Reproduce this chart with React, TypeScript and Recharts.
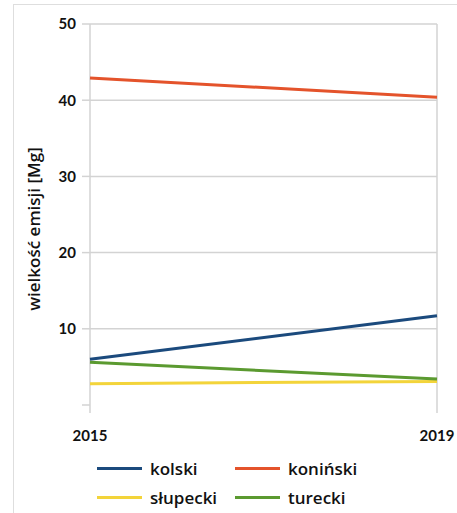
import { LineChart, Line, XAxis, YAxis, CartesianGrid, Legend } from 'recharts';

// Emission estimates per county
const years = ['2015', '2019'];
const kolski = [6.0, 11.7];
const koninski = [42.9, 40.4];
const slupecki = [2.8, 3.1];
const turecki = [5.6, 3.4];
const yTicks = [0, 10, 20, 30, 40, 50];

const series = [
  { key: 'kolski', name: 'kolski', color: '#1b4a7d', values: kolski },
  { key: 'koninski', name: 'koniński', color: '#e4532b', values: koninski },
  { key: 'slupecki', name: 'słupecki', color: '#f3d43a', values: slupecki },
  { key: 'turecki', name: 'turecki', color: '#5b9a30', values: turecki },
];

const data = years.map((year, i) => {
  const row: Record<string, string | number> = { year };
  series.forEach((s) => {
    row[s.key] = s.values[i];
  });
  return row;
});

const FONT = 'Lato, "Open Sans", sans-serif';
const WIDE_FONT = '"Open Sans", Lato, sans-serif';
const GRID = '#d3d3d3';

// legend wrapper starts at margin.left (30px), so offsets are relative to that
const LegendBox = () => (
  <div style={{ position: 'relative', width: 407, height: 50, fontFamily: WIDE_FONT }}>
    {series.map((s, i) => {
      const col = i % 2;
      const row = Math.floor(i / 2);
      const left = col === 0 ? 67 : 205;
      const top = row === 0 ? 3 : 32;
      return (
        <div
          key={s.key}
          style={{ position: 'absolute', left, top, display: 'flex', alignItems: 'center', height: 20 }}
        >
          <div style={{ width: 45, height: 3, background: s.color }} />
          <span style={{ marginLeft: 8, fontSize: 17, fontWeight: 600, color: '#111' }}>
            {s.name}
          </span>
        </div>
      );
    })}
  </div>
);

const YLabel = () => {
  const cx = 33;
  const cy = 229;
  return (
    <text
      x={cx}
      y={cy}
      transform={`rotate(-90 ${cx} ${cy})`}
      textAnchor="middle"
      dominantBaseline="central"
      fontFamily={WIDE_FONT}
      fontSize={17}
      fontWeight={600}
      fill="#111"
    >
      wielkość emisji [Mg]
    </text>
  );
};

export default function App() {
  return (
    <div
      style={{
        position: 'absolute',
        left: 0,
        top: 0,
        width: 457,
        height: 513,
        overflow: 'hidden',
        background: '#fff',
      }}
    >
      <div
        style={{
          position: 'absolute',
          left: 13,
          top: 4,
          width: 470,
          height: 530,
          border: '1px solid #dedede',
        }}
      />
      <LineChart
        width={457}
        height={513}
        data={data}
        margin={{ top: 24, right: 20, left: 30, bottom: 8 }}
      >
        <CartesianGrid stroke={GRID} strokeWidth={1.5} horizontalValues={[10, 20, 30, 40, 50]} />
        <XAxis
          dataKey="year"
          axisLine={false}
          tickLine={{ stroke: GRID, strokeWidth: 1.5 }}
          tickSize={8}
          height={50}
          interval={0}
          tick={{ fontSize: 15, fontWeight: 700, fill: '#111', fontFamily: FONT, dy: 15 }}
        />
        <YAxis
          width={60}
          domain={[0, 50]}
          ticks={yTicks}
          axisLine={false}
          tickLine={{ stroke: GRID, strokeWidth: 1.5 }}
          tickSize={8}
          tickMargin={6}
          tickFormatter={(v: number) => (v === 0 ? '' : String(v))}
          tick={{ fontSize: 15, fontWeight: 700, fill: '#111', fontFamily: FONT }}
          label={<YLabel />}
        />
        <Legend verticalAlign="bottom" height={50} content={<LegendBox />} />
        {series.map((s) => (
          <Line
            key={s.key}
            dataKey={s.key}
            name={s.name}
            stroke={s.color}
            strokeWidth={3}
            dot={false}
            type="linear"
            isAnimationActive={false}
          />
        ))}
      </LineChart>
    </div>
  );
}
